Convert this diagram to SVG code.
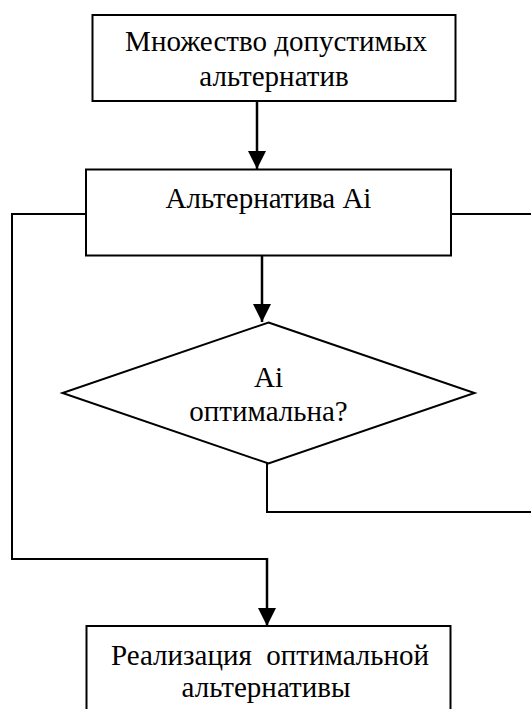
<svg xmlns="http://www.w3.org/2000/svg" width="531" height="709" viewBox="0 0 531 709">
<style>
.box{fill:#fff;stroke:#000;stroke-width:2}
.t{font-family:"Liberation Serif","Times New Roman",serif;font-size:29px;fill:#000;text-anchor:middle;white-space:pre}
.c{fill:none;stroke:#000;stroke-width:2}
.a{fill:none;stroke:#000;stroke-width:2.5}
</style>
<defs>
<marker id="arr" markerUnits="userSpaceOnUse" markerWidth="18" markerHeight="18" viewBox="0 0 16 16" refX="16" refY="8" orient="auto">
<path d="M0,0 L16,8 L0,16 Z" fill="#000"/>
</marker>
</defs>
<g id="connectors">
<line class="a" x1="257" y1="101" x2="257" y2="169" marker-end="url(#arr)"/>
<line class="a" x1="262" y1="256" x2="262" y2="322" marker-end="url(#arr)"/>
<polyline class="c" points="86,214 12,214 12,559 267,559"/>
<line class="a" x1="267" y1="558" x2="267" y2="626" marker-end="url(#arr)"/>
<line class="c" x1="451" y1="214" x2="531" y2="214"/>
<polyline class="c" points="267,463 267,512 531,512"/>
</g>
<g id="n1">
<rect class="box" x="92.5" y="15" width="363" height="86"/>
<text class="t" x="276" y="51">Множество допустимых</text>
<text class="t" x="274" y="86">альтернатив</text>
</g>
<g id="n2">
<rect class="box" x="86" y="169.5" width="365" height="86"/>
<text class="t" x="268.5" y="208">Альтернатива Ai</text>
</g>
<g id="n3">
<polygon class="box" points="268.5,322.5 474.5,393 268.5,463.5 62.5,393"/>
<text class="t" x="268.5" y="387">Ai</text>
<text class="t" x="268.5" y="421">оптимальна?</text>
</g>
<g id="n4">
<rect class="box" x="86.5" y="626" width="364" height="100"/>
<text class="t" x="270" y="665">Реализация  оптимальной</text>
<text class="t" x="266" y="697">альтернативы</text>
</g>
</svg>
